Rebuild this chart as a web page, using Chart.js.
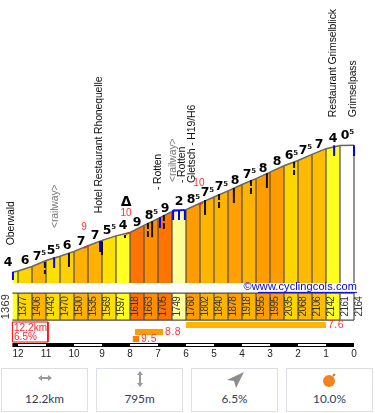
<!DOCTYPE html>
<html><head><meta charset="utf-8">
<style>
html,body{margin:0;padding:0;background:#fff;width:375px;height:413px;overflow:hidden}
#c{position:absolute;left:0;top:0}
.tile{position:absolute;top:368px;width:85px;height:42px;border:1px solid #dcdfe6;background:#fff;text-align:center;font:11.8px Lato,sans-serif;color:#2c3e5c}
.tile svg{position:absolute;left:50%;top:2px;margin-left:-10px}
.tile span{position:absolute;left:0;right:0;top:21px;line-height:18px}
</style>
<script src="https://cdn.jsdelivr.net/npm/chart.js@4/dist/chart.umd.min.js"></script>
</head><body>
<canvas id="c" width="375" height="360"></canvas>
<div class="tile" style="left:1px"><svg width="20" height="18" viewBox="0 0 20 18"><path d="M4 7h12" stroke="#9a9a9a" stroke-width="2"/><path d="M3 7l4-3v6zM17 7l-4-3v6z" fill="#9a9a9a"/></svg><span>12.2km</span></div>
<div class="tile" style="left:96px"><svg width="20" height="18" viewBox="0 0 20 18"><path d="M10 3v10" stroke="#9a9a9a" stroke-width="2"/><path d="M10 0l3 4H7zM10 16l3-4H7z" fill="#9a9a9a"/></svg><span>795m</span></div>
<div class="tile" style="left:191px"><svg width="20" height="18" viewBox="0 0 20 18"><path d="M19 1L2 9l7 1 2 7z" fill="#8c8c8c"/></svg><span>6.5%</span></div>
<div class="tile" style="left:286px"><svg width="20" height="18" viewBox="0 0 20 18"><circle cx="9" cy="10" r="6" fill="#f58220"/><path d="M13 5l2-2" stroke="#c87b2a" stroke-width="2"/></svg><span>10.0%</span></div>
<script>
const profileKm   = [12.2,12,11.5,11,10.5,10,9.5,9,8.5,8,7.5,7,6.5,6,5.5,5,4.5,4,3.5,3,2.5,2,1.5,1,0.5,0];
const altitudes   = [1369,1377,1406,1443,1470,1500,1535,1569,1597,1618,1663,1705,1749,1760,1802,1840,1878,1918,1955,1995,2035,2068,2106,2142,2161,2164];
const cellColors  = ['#ffff22','#ffd500','#ffb400','#ffdf00','#ffd000','#ffb000','#ffb000','#ffe000','#ffff22','#ff7400','#ff8e00','#ff7400','#ffff99','#ff9c00','#ffb400','#ffb400','#ff9f00','#ffb400','#ff9d00','#ff9d00','#ffd500','#ffb900','#ffbe00','#ffff22','#ffffff'];
const gradeMain   = ['4','6','7','5','6','7','7','5','4','9','8','9','2','8','7','7','8','7','8','8','6','7','7','4','0'];
const gradeSup    = ['','','5','5','','','','5','','','5','','','5','5','5','','5','','','5','5','','','5'];
const tickKm      = [12,11,10,9,8,7,6,5,4,3,2,1,0];
const stubSolidKm = [10.18,9.0,8.18,7.21,5.32,4.29,3.11];
const stubSolidTop= [1489,1564,1602,1689,1821,1896,1989];
const stubSolidLow= [1402,1477,1583,1589,1727,1802,1896];
const stubDashKm  = [11.04,7.36,6.79,4.82,3.68,2.14];
const stubDashTop = [1433,1677,1727,1858,1946,2058];
const stubDashLow = [1358,1589,1639,1771,1858,1977];
const blueKm      = [12.18,10.71,9.07,6.93,6.46,6.25,6.04,0.71,0];
const blueTop     = [1371,1464,1564,1714,1758,1758,1758,2164,2164];
const blueLow     = [1321,1396,1496,1646,1696,1696,1696,2096,2096];
const redKmA      = [9.65,8.15,5.55];
const redKmB      = [9.5,8.0,5.4];
const redAltA     = [1521,1607,1790];
const redAltB     = [1535,1618,1802];
const placeNames  = ['Oberwald','<railway>','Hotel Restaurant Rhonequelle','- Rotten','<railway>','- Rotten','Gletsch - H19/H6','Restaurant Grimselblick','Grimselpass'];
const placeKm     = [12.25,10.68,9.11,7,6.46,6.14,5.79,0.75,0.04];
const placeAlt    = [1539,1646,1739,1883,1933,1927,1927,2339,2339];
const redNotes    = ['9','10','10'];
const redNoteKm   = [9.64,8.14,5.54];
const redNoteAlt  = [1652,1739,1927];
const climbGrade  = ['7.6','8.8','9.5'];
const climbFromKm = [6,7.82,7.9];
const climbToKm   = [1,6.82,7.68];
const climbColor  = ['#ffb400','#ff9c00','#ff7c00'];
const climbRow    = [0,1,2];
const summaryBoxKm= [12.2,10.93];
const summaryText = ['12.2km','6.5%'];

const MIN_ALT=902.5, MAX_ALT=3071, BAND_TOP=1239.5, BAND_LOW=1071, STRIP_TOP=1302;
const FONT='"Liberation Sans",sans-serif';
const datasets=[];
function line(points,color,width,order,extra){
  datasets.push(Object.assign({type:'line',data:points,borderColor:color,borderWidth:width,pointRadius:0,fill:false,tension:0,clip:false,order:order,borderCapStyle:'butt'},extra||{}));
}
cellColors.forEach((c,i)=>line([{x:profileKm[i],y:altitudes[i]},{x:profileKm[i+1],y:altitudes[i+1]}],'rgba(0,0,0,0)',0,100,{fill:{value:BAND_LOW},backgroundColor:c}));
profileKm.forEach((k,i)=>{ if(i>0) line([{x:k,y:altitudes[i]},{x:k,y:BAND_LOW}],'#4d4d4d',1.2,90); });
line([{x:12.2,y:(BAND_TOP+STRIP_TOP)/2},{x:-0.1,y:(BAND_TOP+STRIP_TOP)/2}],'#ffffff',10,80);
line([{x:12.2,y:BAND_TOP},{x:0,y:BAND_TOP}],'#4d4d4d',1.2,70);
line([{x:12.2,y:BAND_LOW},{x:0,y:BAND_LOW}],'#4d4d4d',1.2,70);
line(profileKm.map((k,i)=>({x:k,y:altitudes[i]})),'#666666',1.5,60);
redKmA.forEach((k,i)=>line([{x:k,y:redAltA[i]},{x:redKmB[i],y:redAltB[i]}],'#ff2020',1.5,55));
stubSolidKm.forEach((k,i)=>line([{x:k,y:stubSolidTop[i]},{x:k,y:stubSolidLow[i]}],'#111111',2,50));
stubDashKm.forEach((k,i)=>line([{x:k,y:stubDashTop[i]},{x:k,y:stubDashLow[i]}],'#111111',2,50,{borderDash:[6,2]}));
blueKm.forEach((k,i)=>line([{x:k,y:blueTop[i]},{x:k,y:blueLow[i]}],'#0000ff',2,45));
line([{x:6.46,y:1758},{x:6.04,y:1758}],'#0000ff',1.5,45);
climbGrade.forEach((g,i)=>line([{x:climbFromKm[i],y:climbRow[i]},{x:climbToKm[i],y:climbRow[i]}],climbColor[i],6,40,{yAxisID:'rows'}));
const a=summaryBoxKm[0],b=summaryBoxKm[1];
line([{x:a,y:-0.43},{x:b,y:-0.43},{x:b,y:2.43},{x:a,y:2.43},{x:a,y:-0.43}],'#ff0000',1,40,{yAxisID:'rows'});
line([{x:12.2,y:2.857},{x:0,y:2.857}],'#000000',4,35,{yAxisID:'rows'});
for(let k=12;k>0;k-=2) line([{x:k,y:2.857},{x:k-1,y:2.857}],'#ffffff',2,30,{yAxisID:'rows'});

function txt(ctx,s,x,y,font,color,rot,align,spacing){
  ctx.save();ctx.translate(x,y);if(rot)ctx.rotate(-Math.PI/2);
  ctx.font=font;ctx.fillStyle=color;ctx.textAlign=align||'center';ctx.textBaseline='middle';
  ctx.letterSpacing=(spacing||0)+'px';
  ctx.fillText(s,0,0);ctx.restore();
}
const GRADE_FONT='bold 12.5px "DejaVu Sans",sans-serif';
const textPlugin={id:'texts',afterDatasetsDraw(ch){
  const c=ch.ctx,X=ch.scales.x,Y=ch.scales.y,R=ch.scales.rows;
  altitudes.forEach((v,i)=>{
    const first=i===0;
    const px=X.getPixelForValue(profileKm[i])+(first?-6.5:5);
    txt(c,String(v),px,Y.getPixelForValue(1155),(first?'11px ':'10px ')+FONT,'#333333',true,'center',first?0.2:-0.6);
  });
  gradeMain.forEach((m,i)=>{
    let px=X.getPixelForValue(i===0?12.35:(profileKm[i]+profileKm[i+1])/2);
    const py=Y.getPixelForValue(altitudes[i])-10;
    c.font=GRADE_FONT;
    const w=c.measureText(m).width, sup=gradeSup[i];
    const left=px-(sup?w/2+2:w/2);
    txt(c,m,left,py,GRADE_FONT,'#000000',false,'left');
    if(sup) txt(c,sup,left+w,py-3,'bold 7px "DejaVu Sans",sans-serif','#222222',false,'left');
  });
  placeNames.forEach((n,i)=>{
    txt(c,n,X.getPixelForValue(placeKm[i]),Y.getPixelForValue(placeAlt[i]),'10.5px '+FONT,n[0]==='<'?'#777777':'#111111',true,'left',-0.15);
  });
  redNotes.forEach((n,i)=>txt(c,n,X.getPixelForValue(redNoteKm[i]),Y.getPixelForValue(redNoteAlt[i]),'10px '+FONT,'#ff3333'));
  txt(c,'\u0394',X.getPixelForValue(8.14),Y.getPixelForValue(1808),'bold 14px "DejaVu Sans",sans-serif','#000000');
  climbGrade.forEach((g,i)=>txt(c,g,X.getPixelForValue(climbToKm[i])+2,R.getPixelForValue(climbRow[i]),'10.5px '+FONT,'#ff3344',false,'left',0.5));
  summaryText.forEach((s,i)=>txt(c,s,X.getPixelForValue(12.2)+1.5,R.getPixelForValue(i*1.28+0.43),'10px '+FONT,'#ff2030',false,'left',0.1));
  const ux=X.getPixelForValue(0)+3, uy=Y.getPixelForValue(1272);
  txt(c,'\u00a9www.cyclingcols.com',ux,uy-0.5,'11px '+FONT,'#0000dd',false,'right',0.1);
  c.fillStyle='#0000dd';c.fillRect(ux-99,uy+4,99,1);
}};
new Chart(document.getElementById('c'),{
  data:{datasets},
  options:{responsive:false,animation:false,devicePixelRatio:1,
    layout:{padding:{left:12.4,right:21,top:0,bottom:0}},
    plugins:{legend:{display:false},tooltip:{enabled:false}},
    elements:{point:{radius:0}},
    scales:{
      x:{type:'linear',reverse:true,min:0,max:12.2,
        grid:{display:false,drawTicks:false},border:{display:false},
        afterFit(s){s.height=13;s.paddingLeft=0;s.paddingRight=0;},
        afterBuildTicks(s){s.ticks=tickKm.map(v=>({value:v}));},
        ticks:{autoSkip:false,maxRotation:0,padding:1,color:'#222222',font:{size:10,family:'"Liberation Sans",sans-serif'},callback:v=>String(v)}},
      y:{type:'linear',display:false,min:MIN_ALT,max:MAX_ALT},
      rows:{axis:'y',position:'left',type:'linear',display:false,reverse:true,min:-46.43,max:3.14}
    }
  },
  plugins:[textPlugin]
});
</script>
</body></html>
